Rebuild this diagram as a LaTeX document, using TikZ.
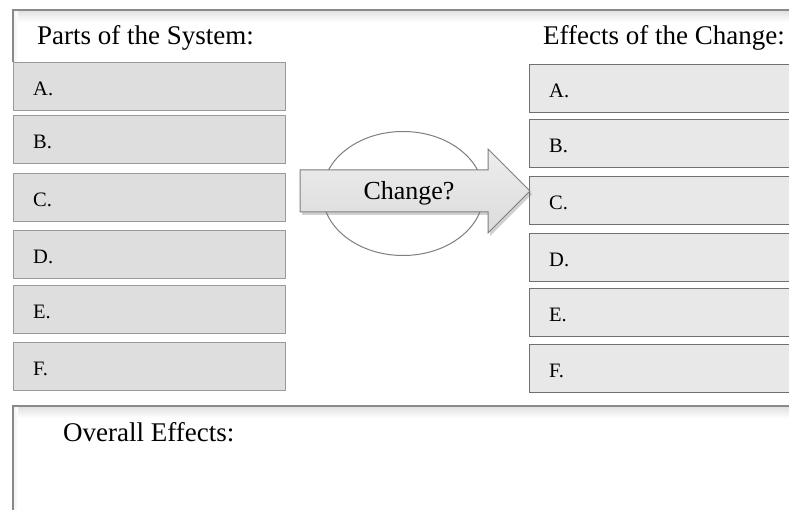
\documentclass[tikz,border=0pt]{standalone}
\usepackage{fontspec}
\setmainfont{Liberation Serif}
\usetikzlibrary{shapes.geometric,shadows}
\definecolor{frameC}{HTML}{8A8A8A}
\definecolor{lfill}{HTML}{DEDEDE}
\definecolor{ldraw}{HTML}{9A9A9A}
\definecolor{rfill}{HTML}{E8E8E8}
\definecolor{rdraw}{HTML}{707070}
\definecolor{arrC}{HTML}{7E7E7E}
\tikzset{
  hdr/.style={anchor=base west,inner sep=0pt,font=\fontsize{27}{32}\selectfont},
  lbl/.style={anchor=base west,inner sep=0pt,font=\fontsize{20.5}{24}\selectfont},
  leftbox/.style={draw=ldraw,fill=lfill,line width=1pt,anchor=north west,inner sep=0pt,minimum width=272pt,minimum height=48pt},
  rightbox/.style={draw=rdraw,fill=rfill,line width=1pt,anchor=north west,inner sep=0pt,minimum width=300pt,minimum height=48pt},
  frameline/.style={draw=frameC,line width=1.2pt},
  innershade/.style={top color=black!12,bottom color=white,draw=none},
  sideshade/.style={left color=black!5,right color=white,draw=none},
}
\begin{document}
\begin{tikzpicture}[x=1pt,y=-1pt]
\useasboundingbox (0,0) rectangle (789,510);
\clip (0,0) rectangle (789,510);
\fill[white] (0,0) rectangle (789,510);
% header frame
\shade[innershade] (13,10.6) rectangle (800,22);
\shade[sideshade] (13.6,10.6) rectangle (18,62);
\draw[frameline] (13,62) -- (13,10) -- (800,10);
\node[hdr] (h1) at (37,45) {Parts of the System:};
\node[hdr] (h2) at (543,45) {Effects of the Change:};
% overall frame
\shade[innershade] (13,406.6) rectangle (800,418);
\shade[sideshade] (13.6,406.6) rectangle (18,512);
\draw[frameline] (13,515) -- (13,406) -- (800,406);
\node[hdr] (ov) at (63,441) {Overall Effects:};
% left boxes
\foreach \n/\t/\y in {lA/A./62,lB/B./115,lC/C./173,lD/D./230,lE/E./285,lF/F./342}{
  \node[leftbox] (\n) at (13,\y) {};
  \node[lbl] (\n t) at ([xshift=20pt,yshift=-9pt]\n.west) {\t};
}
% right boxes
\foreach \n/\t/\y in {rA/A./64,rB/B./119,rC/C./176,rD/D./233,rE/E./288,rF/F./344}{
  \node[rightbox] (\n) at (529,\y) {};
  \node[lbl] (\n t) at ([xshift=20pt,yshift=-9pt]\n.west) {\t};
}
% ellipse
\node[ellipse,draw=arrC,fill=white,line width=1pt,inner sep=0pt,minimum width=161pt,minimum height=124pt] (ell) at (403,193.5) {};
% arrow
\draw[draw=arrC,line width=1pt,top color=black!7,bottom color=black!14,
      drop shadow={shadow xshift=2pt,shadow yshift=-3pt,opacity=0.3,fill=black!60}]
  (300,170) -- (488,170) -- (488,149) -- (530,191) -- (488,233) -- (488,212) -- (300,212) -- cycle;
\node[anchor=base,inner sep=0pt,font=\fontsize{26}{30}\selectfont] (chg) at (409,200) {Change?};
\end{tikzpicture}
\end{document}
